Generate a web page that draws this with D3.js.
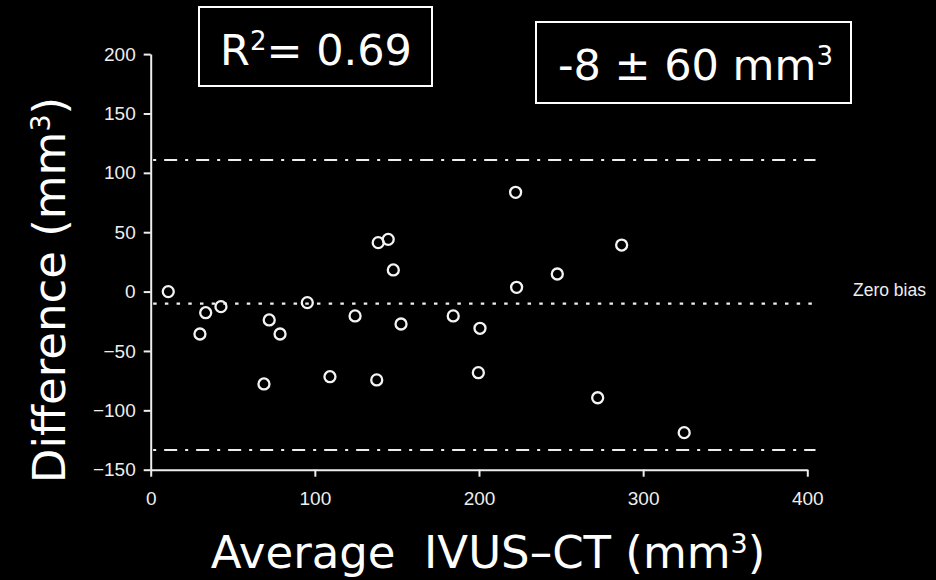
<!DOCTYPE html>
<html>
<head>
<meta charset="utf-8">
<script src="https://cdn.jsdelivr.net/npm/d3@7"></script>
<style>
  html, body { margin: 0; padding: 0; background: #000; }
  svg { display: block; }
  .tick text { font-family: 'Liberation Sans', Arial, sans-serif; font-size: 19px; fill: #eee; }
  .tick line, .domain { stroke: #eee; stroke-width: 2; }
  .big { font-family: 'DejaVu Sans', sans-serif; fill: #fff; white-space: pre; }
</style>
</head>
<body>
<main></main>
<script>
// average of the two methods (mm3) and their difference (mm3)
const averages = [10.7, 30, 33.5, 42.8, 69, 72.2, 78.8, 95.4, 109.2, 124.5, 137.7, 138.6,
  144.7, 147.8, 152.5, 184.3, 199.6, 200.6, 222.3, 222.9, 247.7, 272.3, 286.9, 325];
const differences = [0, -35.7, -17.8, -12.7, -77.8, -23.9, -35.7, -9.3, -71.7, -20.5, -74.4, 41.2,
  44, 18.2, -27.3, -20.5, -68.3, -30.9, 83.6, 3.6, 14.8, -89.4, 39.2, -118.8];

const biasLine = -10.2;
const limitLines = [110.8, -133.4];
const lineSpan = [1.5, 405];

const xTicks = [0, 100, 200, 300, 400];
const yTicks = [-150, -100, -50, 0, 50, 100, 150, 200];

const w = 936;
const h = 580;

const xScale = d3.scaleLinear()
  .domain([0, 400])
  .range([150.7, 807.3]);

const yScale = d3.scaleLinear()
  .domain([-150, 200])
  .range([469.7, 54.1]);

const svg = d3.select('main').append('svg')
  .attr('width', w)
  .attr('height', h);

svg.append('rect')
  .attr('width', w)
  .attr('height', h)
  .attr('fill', '#000');

// axes
const yAxis = d3.axisLeft(yScale)
  .tickValues(yTicks)
  .tickSize(7)
  .tickSizeOuter(0)
  .tickPadding(8);

const xAxis = d3.axisBottom(xScale)
  .tickValues(xTicks)
  .tickSize(7)
  .tickSizeOuter(0)
  .tickPadding(15);

svg.append('g')
  .attr('transform', `translate(${xScale(0)}, 0)`)
  .call(yAxis)
  .call(g => g.select('.domain').attr('stroke', '#eee'));

svg.append('g')
  .attr('transform', `translate(0, ${yScale(-150)})`)
  .call(xAxis)
  .call(g => g.select('.domain').attr('stroke', '#eee'));

// bias and limits of agreement
const hLine = (val, dash) => svg.append('line')
  .attr('x1', xScale(lineSpan[0]))
  .attr('x2', xScale(lineSpan[1]))
  .attr('y1', yScale(val))
  .attr('y2', yScale(val))
  .attr('stroke', '#eee')
  .attr('stroke-width', 2.2)
  .attr('stroke-dasharray', dash);

limitLines.forEach(v => hLine(v, '3,8,13,8'));
hLine(biasLine, '3.5,8.2');

svg.append('text')
  .attr('x', 853)
  .attr('y', 296)
  .attr('fill', '#eee')
  .attr('font-family', "'Liberation Sans', Arial, sans-serif")
  .attr('font-size', '17.5px')
  .text('Zero bias');

// points
svg.selectAll('circle.pt')
  .data(averages)
  .enter()
  .append('circle')
  .attr('class', 'pt')
  .attr('cx', d => xScale(d))
  .attr('cy', (d, i) => yScale(differences[i]))
  .attr('r', 5.5)
  .attr('fill', 'none')
  .attr('stroke', '#f4f4f4')
  .attr('stroke-width', 2.3);

// stat boxes
const boxes = [
  {x: 199, y: 7, w: 233, h: 79},
  {x: 536, y: 22, w: 315, h: 81}
];
svg.selectAll('rect.box')
  .data(boxes)
  .enter()
  .append('rect')
  .attr('class', 'box')
  .attr('x', d => d.x)
  .attr('y', d => d.y)
  .attr('width', d => d.w)
  .attr('height', d => d.h)
  .attr('fill', 'none')
  .attr('stroke', '#fff')
  .attr('stroke-width', 2);

const r2 = svg.append('text')
  .attr('class', 'big')
  .attr('x', 220)
  .attr('y', 65)
  .attr('font-size', '43px');
r2.append('tspan').text('R');
r2.append('tspan').attr('dy', -15).attr('font-size', '26px').text('2');
r2.append('tspan').attr('dy', 15).text('= 0.69');

const meanSd = svg.append('text')
  .attr('class', 'big')
  .attr('x', 558)
  .attr('y', 80)
  .attr('font-size', '43px');
meanSd.append('tspan').text('-8 ± 60 mm');
meanSd.append('tspan').attr('dy', -15).attr('font-size', '26px').text('3');

// axis titles
const xTitle = svg.append('text')
  .attr('class', 'big')
  .attr('x', 488)
  .attr('y', 568)
  .attr('text-anchor', 'middle')
  .attr('font-size', '45px');
xTitle.append('tspan').text('Average  IVUS–CT (mm');
xTitle.append('tspan').attr('dy', -15).attr('font-size', '27px').text('3');
xTitle.append('tspan').attr('dy', 15).text(')');

const yTitle = svg.append('text')
  .attr('class', 'big')
  .attr('transform', 'translate(65, 290) rotate(-90)')
  .attr('text-anchor', 'middle')
  .attr('font-size', '45px');
yTitle.append('tspan').text('Difference (mm');
yTitle.append('tspan').attr('dy', -15).attr('font-size', '27px').text('3');
yTitle.append('tspan').attr('dy', 15).text(')');
</script>
</body>
</html>
